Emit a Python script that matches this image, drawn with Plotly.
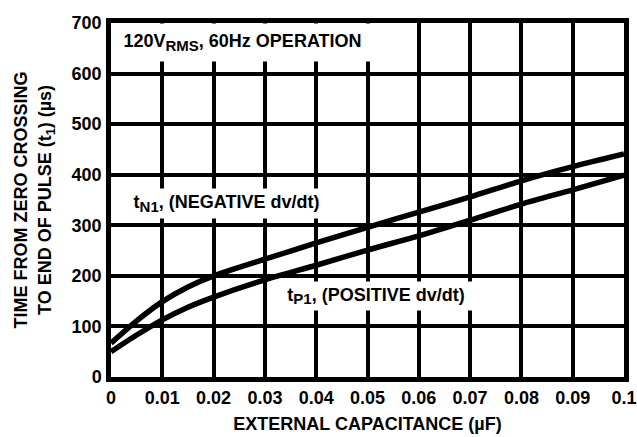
import plotly.graph_objects as go

cap_uF = [0, 0.005, 0.01, 0.015, 0.02, 0.03, 0.04, 0.05, 0.06, 0.07, 0.08, 0.09, 0.1]
t_n1 = [67, 111, 149, 178, 200, 233, 265, 296, 326, 356, 388, 416, 441]
t_p1 = [50, 83, 113, 138, 158, 192, 221, 251, 279, 310, 342, 370, 399]

x_ticks = [0, 0.01, 0.02, 0.03, 0.04, 0.05, 0.06, 0.07, 0.08, 0.09, 0.1]
x_tick_text = ["0", "0.01", "0.02", "0.03", "0.04", "0.05", "0.06", "0.07", "0.08", "0.09", "0.1"]
y_ticks = [0, 100, 200, 300, 400, 500, 600, 700]

FONT = "Liberation Sans, Arial, sans-serif"

fig = go.Figure()
for ys in (t_n1, t_p1):
    fig.add_trace(go.Scatter(x=cap_uF, y=ys, mode="lines",
                             line=dict(color="black", width=5.5, shape="spline", smoothing=0.8),
                             hoverinfo="skip", showlegend=False))

axis_common = dict(showline=True, linecolor="black", linewidth=4.5, mirror=True,
                   showgrid=True, gridcolor="black", gridwidth=3.5, zeroline=False,
                   automargin=False,
                   ticks="outside", ticklen=1, tickcolor="rgba(0,0,0,0)",
                   tickfont=dict(family=FONT, size=18, color="black", weight="bold"))

fig.update_xaxes(range=[0, 0.1], tickvals=x_ticks, ticktext=x_tick_text,
                 title=dict(text="<b>EXTERNAL CAPACITANCE (µF)</b>", standoff=12,
                            font=dict(family=FONT, size=18, color="black")),
                 **axis_common)
fig.update_yaxes(range=[0, 700], tickvals=y_ticks,
                 title=dict(text="<b>TIME FROM ZERO CROSSING<br>TO END OF PULSE (t<sub>1</sub>) (µs)</b>",
                            standoff=17, font=dict(family=FONT, size=18, color="black")),
                 **axis_common)


def sub(s):
    return '<sub><span style="font-size:15px">' + s + '</span></sub>'


label_font = dict(family=FONT, size=18, color="black")
fig.add_annotation(x=0.0257, y=661, xref="x", yref="y",
                   text="<b>120V" + sub("RMS") + ", 60Hz OPERATION</b>",
                   showarrow=False, bgcolor="white", width=257, height=35, font=label_font)
fig.add_annotation(x=0.0225, y=343, xref="x", yref="y",
                   text="<b>t" + sub("N1") + ", (NEGATIVE dv/dt)</b>",
                   showarrow=False, bgcolor="white", width=225, height=27, font=label_font)
fig.add_annotation(x=0.0517, y=160, xref="x", yref="y",
                   text="<b>t" + sub("P1") + ", (POSITIVE dv/dt)</b>",
                   showarrow=False, bgcolor="white", width=212, height=26, font=label_font)

fig.update_layout(width=637, height=437, margin=dict(l=111, r=13, t=23, b=60),
                  paper_bgcolor="white", plot_bgcolor="white",
                  font=dict(family=FONT, color="black"))

fig.write_html("out.html", config={"displayModeBar": False},
               post_script="document.body.style.margin='0px';document.body.style.overflow='hidden';")
